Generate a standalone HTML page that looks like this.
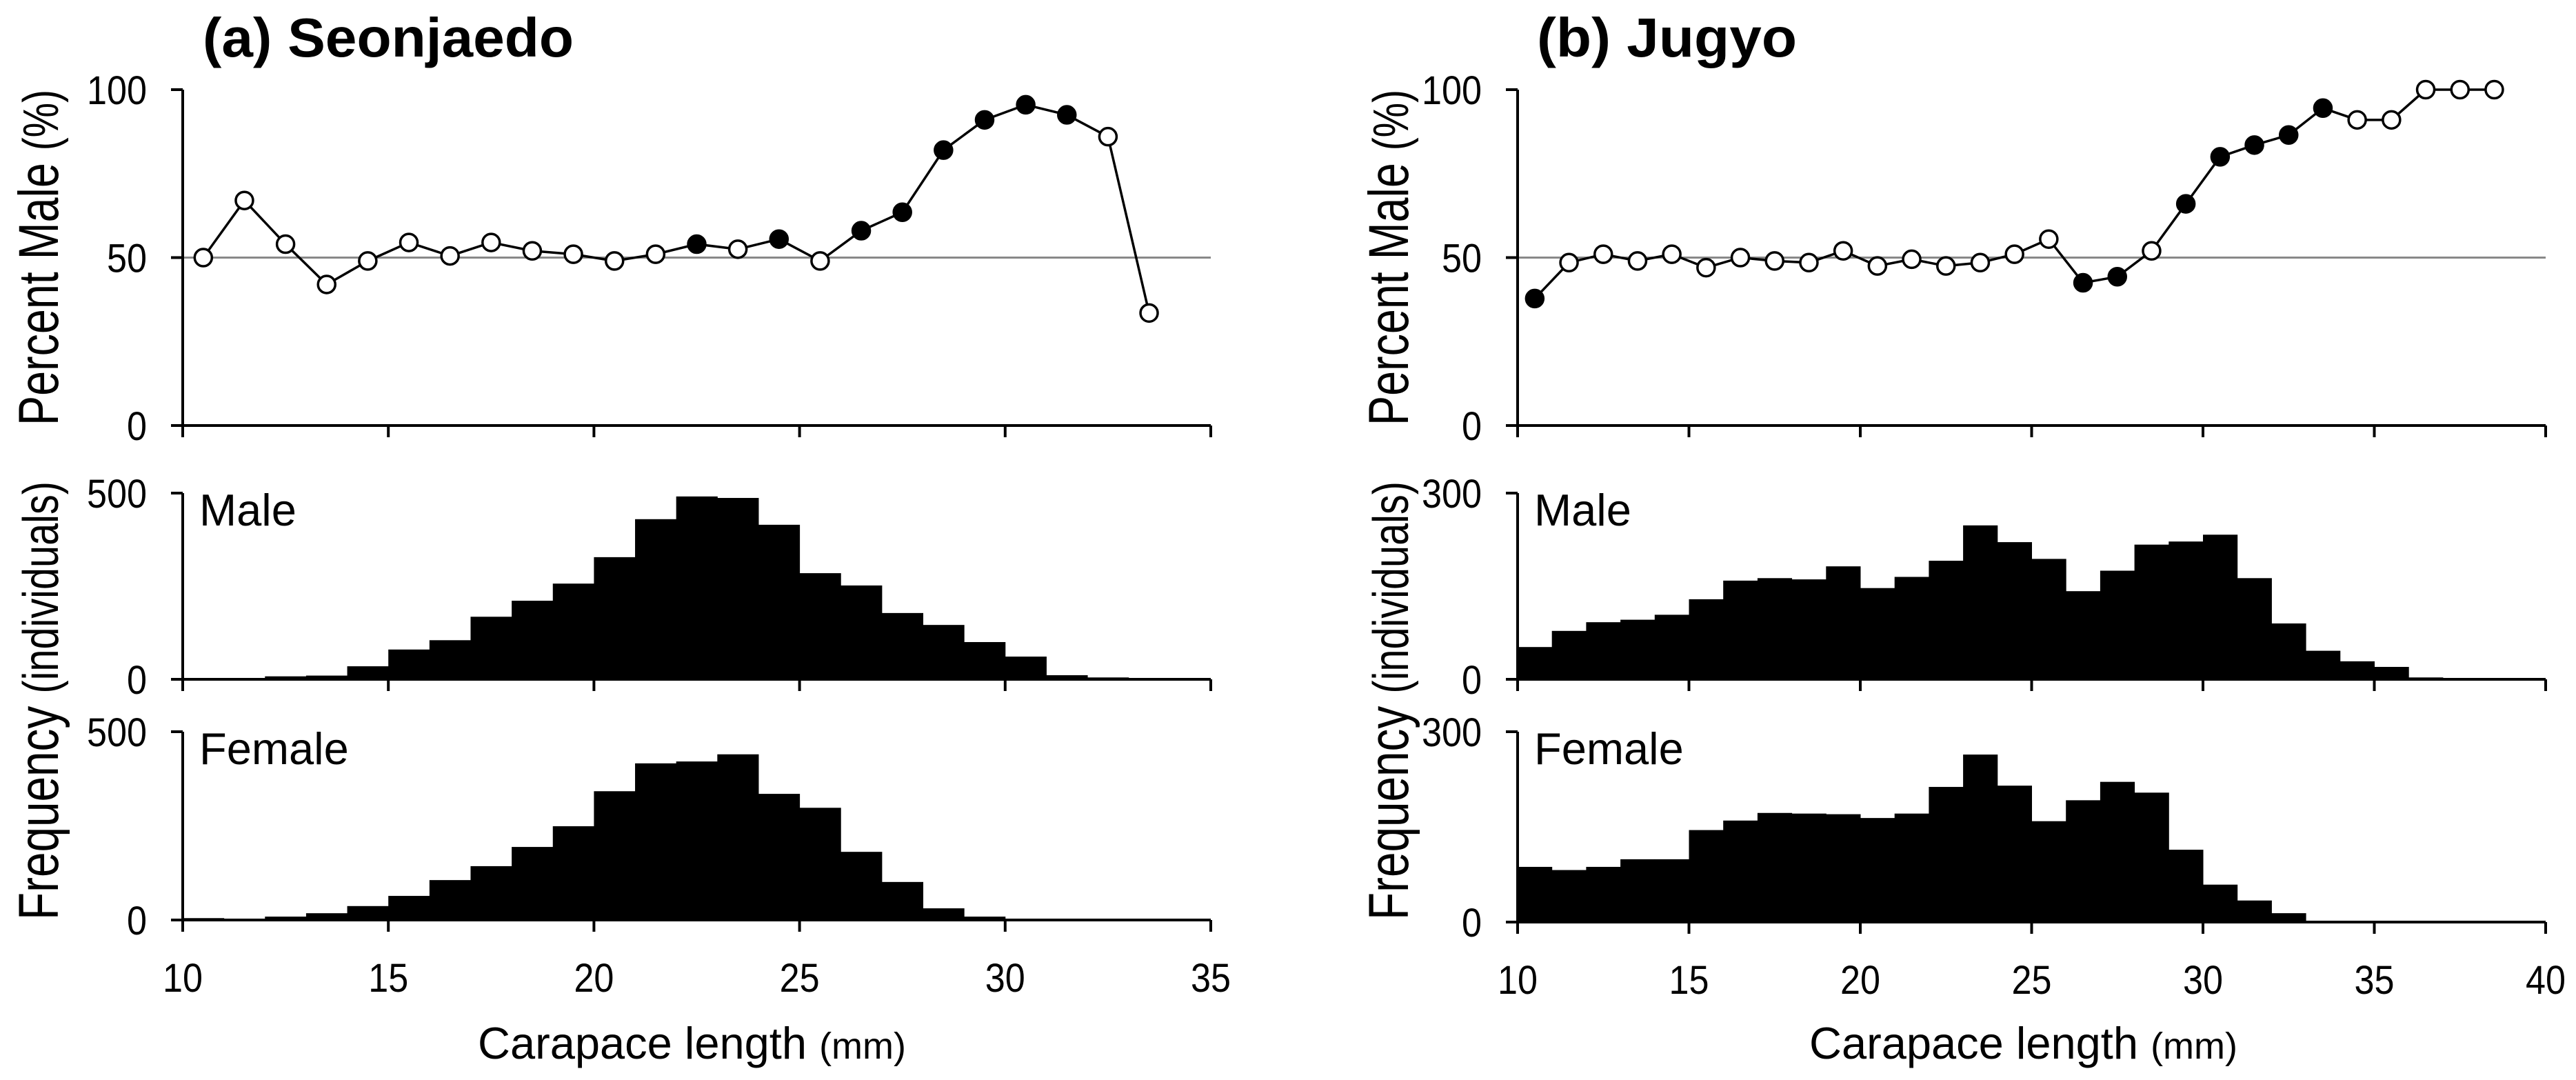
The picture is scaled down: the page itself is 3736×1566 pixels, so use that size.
<!DOCTYPE html>
<html><head><meta charset="utf-8"><style>
html,body{margin:0;padding:0;background:#fff;}
svg{display:block;font-family:"Liberation Sans",Arial,sans-serif;}
</style></head><body>
<svg id="chart" xmlns="http://www.w3.org/2000/svg" width="3736" height="1566" viewBox="0 0 3736 1566">
<rect width="3736" height="1566" fill="#fff"/>
</svg>
<script>
// ---- data ----
const aPctX = [10.5,11.5,12.5,13.5,14.5,15.5,16.5,17.5,18.5,19.5,20.5,21.5,22.5,23.5,24.5,25.5,26.5,27.5,28.5,29.5,30.5,31.5,32.5,33.5];
const aPct = [50,67,54,42,49,54.5,50.5,54.5,52,51,49,51,54,52.5,55.5,49,58,63.5,82,91,95.5,92.5,86,33.5];
const aSig = [0,0,0,0,0,0,0,0,0,0,0,0,1,0,1,0,1,1,1,1,1,1,0,0];
const aBins = [10,11,12,13,14,15,16,17,18,19,20,21,22,23,24,25,26,27,28,29,30,31,32,33,34];
const aMale = [2,1,8,10,35,80,105,168,211,257,328,430,491,487,415,285,252,178,146,100,61,11,5,0,0];
const aFemale = [5,2,9,18,37,64,106,143,194,249,342,416,421,440,335,298,181,101,31,9,2,1,0,3,0];
const bPctX = [10.5,11.5,12.5,13.5,14.5,15.5,16.5,17.5,18.5,19.5,20.5,21.5,22.5,23.5,24.5,25.5,26.5,27.5,28.5,29.5,30.5,31.5,32.5,33.5,34.5,35.5,36.5,37.5,38.5];
const bPct = [37.8,48.5,51,49,51,47,50,49,48.5,52,47.5,49.5,47.5,48.5,51,55.5,42.5,44.3,52,66,80,83.5,86.5,94.5,91,91,100,100,100];
const bSig = [1,0,0,0,0,0,0,0,0,0,0,0,0,0,0,0,1,1,0,1,1,1,1,1,0,0,0,0,0];
const bBins = [10,11,12,13,14,15,16,17,18,19,20,21,22,23,24,25,26,27,28,29,30,31,32,33,34,35,36,37,38,39];
const bMale = [52,78,92,96,104,129,159,163,161,182,147,165,191,248,221,194,142,175,217,222,233,163,90,46,29,20,3,1,1,0];
const bFemale = [87,82,87,99,99,145,160,172,171,170,164,171,213,264,215,159,192,221,204,114,59,34,14,2,2,1,0,0,0,0];
const aXTicks = [10,15,20,25,30,35];
const bXTicks = [10,15,20,25,30,35,40];

const NS = "http://www.w3.org/2000/svg";
const svg = document.getElementById('chart');
function mk(tag, attrs, parent, text){
  const e = document.createElementNS(NS, tag);
  for (const k in attrs) e.setAttribute(k, attrs[k]);
  if (text !== undefined) e.textContent = text;
  (parent||svg).appendChild(e);
  return e;
}

function panel(cfg){
  const g = mk('g', {});
  
  
  const x = v => cfg.x0 + (v - cfg.xmin) / (cfg.xmax - cfg.xmin) * (cfg.x1 - cfg.x0);
  const t = mk('text', {x: cfg.titleX, y: 82, 'font-size': 80, 'font-weight': 'bold', textLength: cfg.titleW, lengthAdjust: 'spacingAndGlyphs'}, g, cfg.title);
  
  

  const rows = [
    {type:'pct', top:130, bot:617, max:100, ticks:[0,50,100]},
    {type:'hist', top:715, bot:985, max:cfg.hmax, ticks:[0,cfg.hmax], vals:cfg.male, label:'Male'},
    {type:'hist', top:1061, bot:cfg.fbot, max:cfg.hmax, ticks:[0,cfg.hmax], vals:cfg.female, label:'Female'}
  ];
  rows.forEach((r) => {
    const y = v => r.bot - v / r.max * (r.bot - r.top);
    const sg = mk('g', {}, g);
    
    
    if (r.type === 'pct') {
      const ref = mk('line', {x1: cfg.x0, x2: cfg.x1, y1: y(50), y2: y(50), stroke: '#888', 'stroke-width': 3}, sg);
      
      
      const pts = cfg.pctX.map((v, i) => x(v) + ',' + y(cfg.pct[i])).join(' ');
      const pl = mk('polyline', {points: pts, fill: 'none', stroke: '#000', 'stroke-width': 3.5}, sg);
      
      
      cfg.pctX.forEach((v, i) => {
        const c = mk('circle', {cx: x(v), cy: y(cfg.pct[i]), r: 12.5, fill: cfg.sig[i] ? '#000' : '#fff', stroke: '#000', 'stroke-width': 3.5}, sg);
        
        
      });
    } else {
      r.vals.forEach((v, i) => {
        if (v <= 0) return;
        const b = cfg.bins[i];
        const rc = mk('rect', {x: x(b), y: y(v), width: x(b + 1) - x(b) + 0.5, height: r.bot - y(v), fill: '#000'}, sg);
        
        
      });
      const lb = mk('text', {x: cfg.x0 + 24, y: r.top + 47, 'font-size': 65}, sg, r.label);
      
      
    }
    const ax = mk('path', {d: `M${cfg.x0},${r.top} V${r.bot} H${cfg.x1}`, fill: 'none', stroke: '#000', 'stroke-width': 4}, sg);
    
    
    r.ticks.forEach(tv => {
      const tk = mk('line', {x1: cfg.x0 - 17, x2: cfg.x0, y1: y(tv), y2: y(tv), stroke: '#000', 'stroke-width': 4}, sg);
      
      
      const s = String(tv);
      const tl = mk('text', {x: cfg.x0 - 52 - s.length * 29, y: y(tv) + 21, 'font-size': 58, textLength: s.length * 29, lengthAdjust: 'spacingAndGlyphs'}, sg, s);
      
      
    });
    cfg.xticks.forEach(tv => {
      const tk = mk('line', {x1: x(tv), x2: x(tv), y1: r.bot, y2: r.bot + 17, stroke: '#000', 'stroke-width': 4}, sg);
      
      
    });
  });
  cfg.xticks.forEach(tv => {
    const s = String(tv);
    const tl = mk('text', {x: x(tv) - s.length * 14.5, y: cfg.fbot + 104, 'font-size': 58, textLength: s.length * 29, lengthAdjust: 'spacingAndGlyphs'}, g, s);
    
    
  });
  const xl = mk('text', {x: cfg.xlabX, y: 1535, 'font-size': 65}, g);
  
  
  mk('tspan', {}, xl, 'Carapace length ');
  mk('tspan', {'font-size': 54}, xl, '(mm)');
  const yl1 = mk('text', {transform: `translate(${cfg.ylabX},617) rotate(-90)`, 'font-size': 82, textLength: 487, lengthAdjust: 'spacingAndGlyphs'}, g);
  
  
  mk('tspan', {}, yl1, 'Percent Male ');
  mk('tspan', {'font-size': 72}, yl1, '(%)');
  const yl2 = mk('text', {transform: `translate(${cfg.ylabX},1334) rotate(-90)`, 'font-size': 82, textLength: 636, lengthAdjust: 'spacingAndGlyphs'}, g);
  
  
  mk('tspan', {}, yl2, 'Frequency ');
  mk('tspan', {'font-size': 72}, yl2, '(individuals)');
}

panel({name:'panel-a-seonjaedo', title:'(a) Seonjaedo', titleX:294, titleW:538, x0:265, x1:1756, xmin:10, xmax:35,
  pctX:aPctX, pct:aPct, sig:aSig, bins:aBins, male:aMale, female:aFemale, hmax:500, fbot:1334,
  xticks:aXTicks, xlabX:693, ylabX:84});
panel({name:'panel-b-jugyo', title:'(b) Jugyo', titleX:2229, titleW:377, x0:2201, x1:3692, xmin:10, xmax:40,
  pctX:bPctX, pct:bPct, sig:bSig, bins:bBins, male:bMale, female:bFemale, hmax:300, fbot:1337,
  xticks:bXTicks, xlabX:2624, ylabX:2042});
</script>
</body></html>
